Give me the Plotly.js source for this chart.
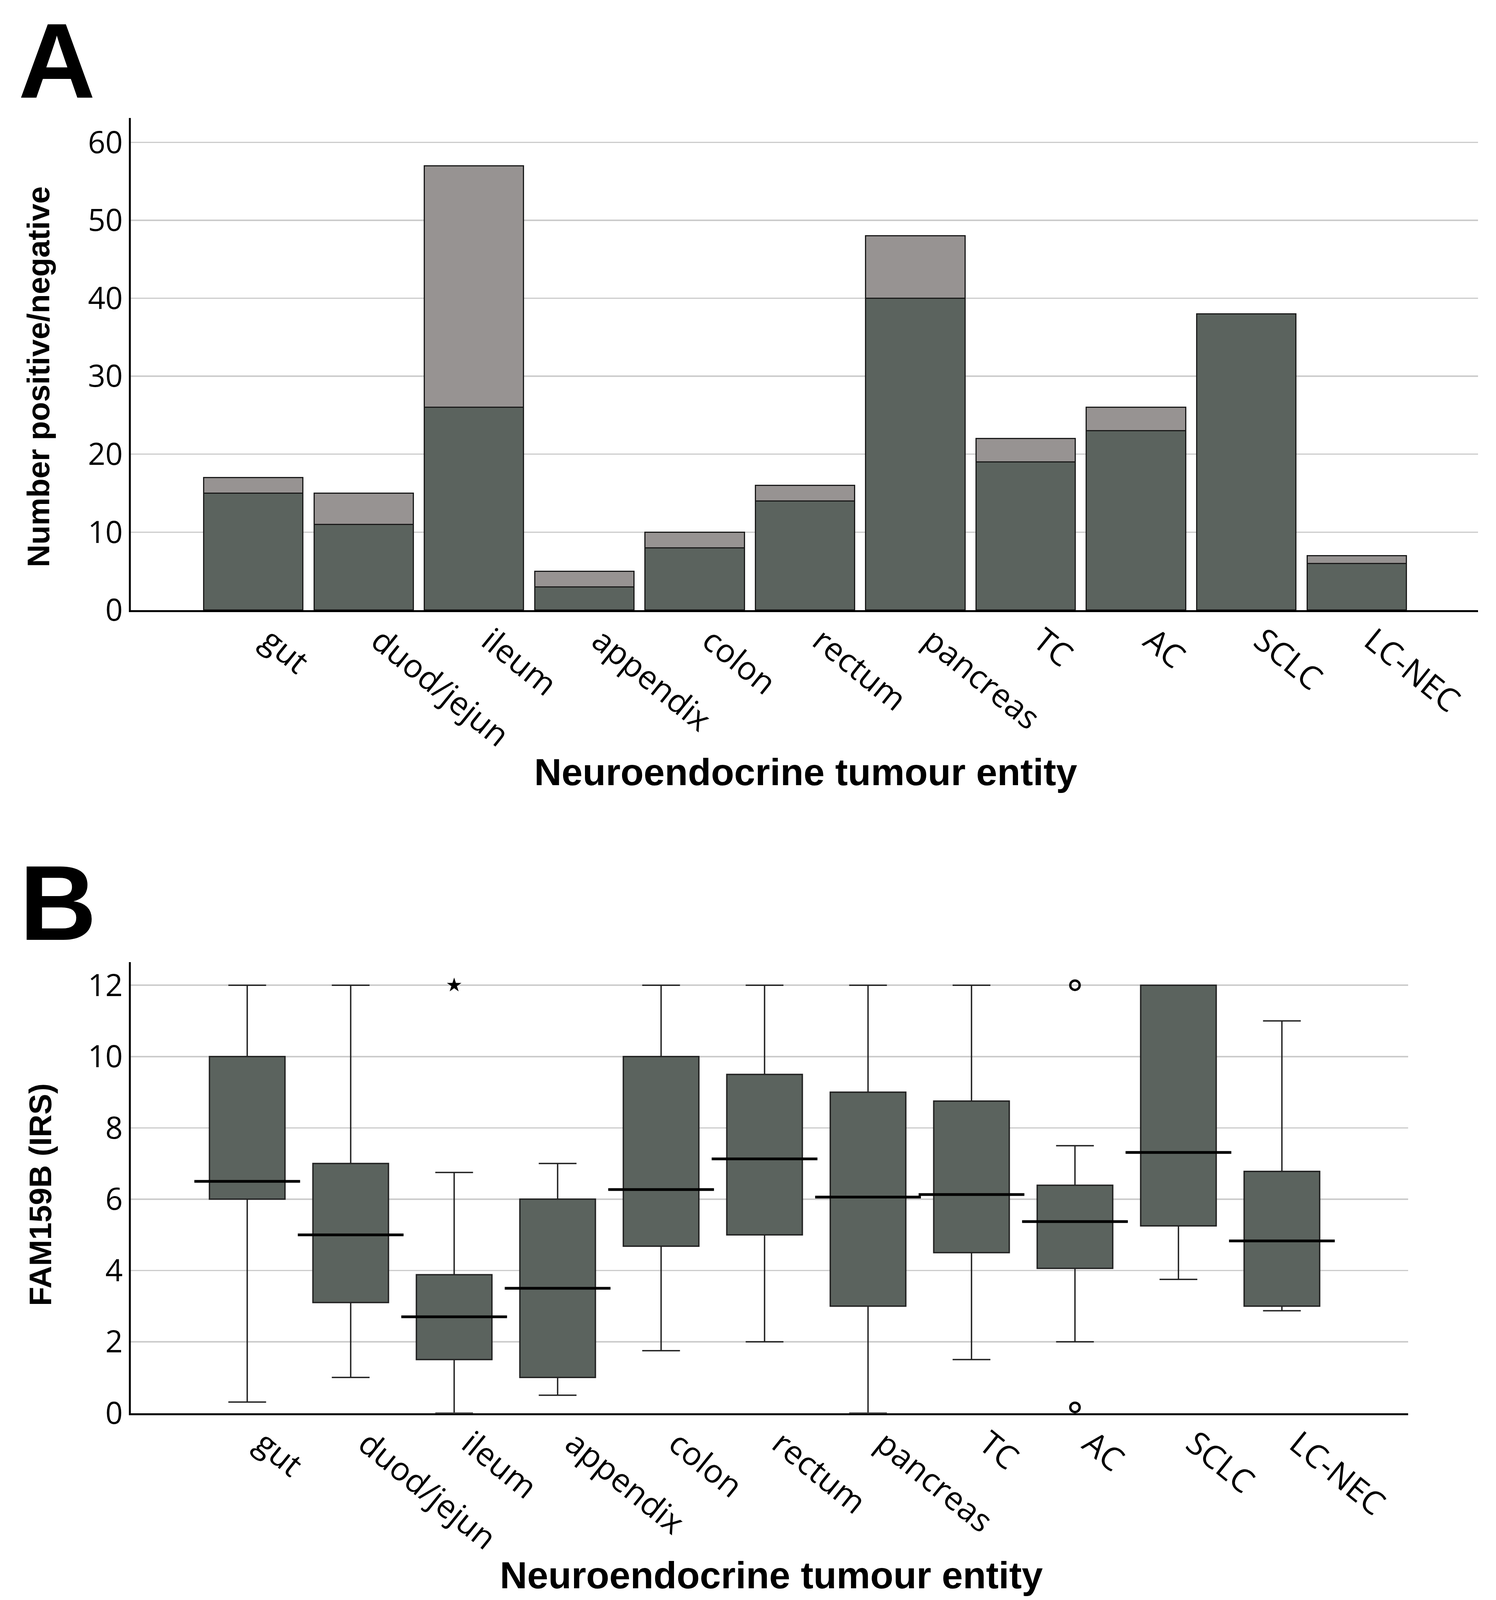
<!DOCTYPE html>
<html><head><meta charset="utf-8">
<script src="https://cdn.plot.ly/plotly-3.0.1.min.js"></script>
<style>html,body{margin:0;padding:0;background:#fff;overflow:hidden;} #chart{width:3831px;}</style>
</head><body><div id="chart"></div>
<script>
// ---- data ----
const categories = ['gut','duod/jejun','ileum','appendix','colon','rectum','pancreas','TC','AC','SCLC','LC-NEC'];
const positiveCounts = [15, 11, 26, 3, 8, 14, 40, 19, 23, 38, 6];
const negativeCounts = [2, 4, 31, 2, 2, 2, 8, 3, 3, 0, 1];
const boxLower  = [0.31, 1.0, 0.0, 0.5, 1.75, 2.0, 0.0, 1.5, 2.0, 3.75, 2.87];
const boxQ1     = [6.0, 3.1, 1.5, 1.0, 4.68, 5.0, 3.0, 4.5, 4.06, 5.25, 3.0];
const boxMedian = [6.5, 5.0, 2.7, 3.5, 6.27, 7.13, 6.06, 6.13, 5.37, 7.31, 4.83];
const boxQ3     = [10.0, 7.0, 3.88, 6.0, 10.0, 9.5, 9.0, 8.75, 6.39, 12.0, 6.78];
const boxUpper  = [12.0, 12.0, 6.75, 7.0, 12.0, 12.0, 12.0, 12.0, 7.5, 12.0, 11.0];
const extremeCats = ['ileum'];
const extremeVals = [12];
const outlierCats = ['AC', 'AC'];
const outlierVals = [12, 0.16];
const countTicks = [0, 10, 20, 30, 40, 50, 60];
const irsTicks = [0, 2, 4, 6, 8, 10, 12];
const yTitleA = 'Number positive/negative';
const yTitleB = 'FAM159B (IRS)';
const xTitle = 'Neuroendocrine tumour entity';

// ---- sizing: the figure follows the reference proportions inside the available window ----
const REF_W = 3831, REF_H = 5119;
const W = REF_W;
const H = Math.min(REF_H, window.innerHeight || REF_H);
const fy = H / REF_H;
const fs = Math.sqrt(fy);
document.getElementById('chart').style.height = H + 'px';

function fitSize(text, family, target) {
  const ctx = document.createElement('canvas').getContext('2d');
  ctx.font = 'bold 100px ' + family;
  const w = ctx.measureText(text).width || 1;
  return 100 * target / w;
}
const boldFam = '"Liberation Sans", Arial, sans-serif';
const ySize = Math.min(105, fitSize(yTitleA, boldFam, 1219 * fy));
const xSize = Math.min(108, fitSize(xTitle, boldFam, 1545 * (0.5 + 0.5 * fy) / 1.0));
// slanted category labels: keep the reference's horizontal and (squeezed) vertical extents
const tickAngle = Math.round(Math.atan(Math.tan(Math.PI / 4) * fy) * 180 / Math.PI);

const dark = '#5b635e', light = '#979392';
const tickFont = {family: 'Open Sans, DejaVu Sans, sans-serif', size: Math.round(82 * Math.sqrt(fs)), color: '#000'};
const catFont = {family: 'Open Sans, DejaVu Sans, sans-serif', size: Math.round(88 * Math.sqrt(fs)), color: '#000'};
const yTitleFont = {family: 'Liberation Sans, Arial, sans-serif', size: ySize, color: '#000', weight: 'bold'};
const xTitleFont = {family: 'Liberation Sans, Arial, sans-serif', size: xSize, color: '#000', weight: 'bold'};
const letterSize = Math.round(305 * fs);
const letterFont = {family: 'Liberation Sans, Arial, sans-serif', size: letterSize, color: '#000', weight: 'bold'};

const x2Range = [-1.125, 11.22];
const x2Domain = [335 / REF_W, 3606 / REF_W];
const boxWidthUnits = 0.73;
const catPx = (x2Domain[1] - x2Domain[0]) * W / (x2Range[1] - x2Range[0]);
const boxPx = boxWidthUnits * catPx;
const py = v => 1 - v / REF_H;     // reference pixel row -> paper fraction
const px = v => v / REF_W;         // reference pixel column -> paper fraction
const letterTop = capTopRef => Math.min(1, 1 - (capTopRef * fy - 0.189 * letterSize) / H);

const traces = [
  {type: 'bar', x: categories, y: positiveCounts, xaxis: 'x', yaxis: 'y',
   marker: {color: dark, line: {color: '#1a1a1a', width: 3}}, width: 0.9, hoverinfo: 'none'},
  {type: 'bar', x: categories, y: negativeCounts, xaxis: 'x', yaxis: 'y',
   marker: {color: light, line: {color: '#1a1a1a', width: 3}}, width: 0.9, hoverinfo: 'none'},
  {type: 'box', x: categories, q1: boxQ1, median: boxMedian, q3: boxQ3,
   lowerfence: boxLower, upperfence: boxUpper, xaxis: 'x2', yaxis: 'y2',
   boxpoints: false, width: boxWidthUnits, whiskerwidth: 0.5,
   fillcolor: dark, line: {color: '#222', width: 3.5}, hoverinfo: 'none'},
  {type: 'scatter', mode: 'markers', x: categories, y: boxMedian, xaxis: 'x2', yaxis: 'y2',
   marker: {symbol: 'line-ew', size: boxPx, color: '#000', line: {color: '#000', width: 7}}, hoverinfo: 'none'},
  {type: 'scatter', mode: 'markers', x: extremeCats, y: extremeVals, xaxis: 'x2', yaxis: 'y2',
   marker: {symbol: 'star', size: 28, color: '#000'}, cliponaxis: false, hoverinfo: 'none'},
  {type: 'scatter', mode: 'markers', x: outlierCats, y: outlierVals, xaxis: 'x2', yaxis: 'y2',
   marker: {symbol: 'circle-open', size: 24, color: '#000', line: {color: '#000', width: 6}}, cliponaxis: false, hoverinfo: 'none'}
];

const commonX = {type: 'category', categoryorder: 'array', categoryarray: categories,
  tickangle: tickAngle, tickfont: catFont, showline: true, linecolor: '#000', linewidth: 5,
  ticks: '', showgrid: false, zeroline: false, fixedrange: true,
  ticklabelshift: 40, ticklabelstandoff: Math.round(-10 * fy)};
const commonY = {showgrid: true, gridcolor: '#cccccc', gridwidth: 3.5, showline: true,
  linecolor: '#000', linewidth: 5, ticks: '', zeroline: false, tickfont: tickFont, fixedrange: true};

const layout = {
  width: W, height: H, margin: {l: 0, r: 0, t: 0, b: 0},
  paper_bgcolor: '#fff', plot_bgcolor: '#fff', showlegend: false, barmode: 'stack',
  xaxis: Object.assign({}, commonX, {domain: [px(335), px(3785)], range: [-1.11, 11.1], anchor: 'y'}),
  yaxis: Object.assign({}, commonY, {domain: [py(1952), py(378)], range: [0, 63.1],
    tickvals: countTicks, ticktext: countTicks.map(String), anchor: 'x'}),
  xaxis2: Object.assign({}, commonX, {domain: x2Domain, range: x2Range, anchor: 'y2'}),
  yaxis2: Object.assign({}, commonY, {domain: [py(4521), py(3078)], range: [0, 12.65],
    tickvals: irsTicks, ticktext: irsTicks.map(String), anchor: 'x2'}),
  annotations: [
    {text: 'A', xref: 'paper', yref: 'paper', x: px(145), y: letterTop(66), xanchor: 'center', yanchor: 'top', showarrow: false, font: letterFont},
    {text: 'B', xref: 'paper', yref: 'paper', x: px(148), y: letterTop(2760), xanchor: 'center', yanchor: 'top', showarrow: false, font: letterFont},
    {text: yTitleA, xref: 'paper', yref: 'paper', x: px(98), y: py(1206), textangle: -90, xanchor: 'center', yanchor: 'middle', showarrow: false, font: yTitleFont},
    {text: xTitle, xref: 'paper', yref: 'paper', x: px(2063), y: py(2470), xanchor: 'center', yanchor: 'middle', showarrow: false, font: xTitleFont},
    {text: yTitleB, xref: 'paper', yref: 'paper', x: px(103), y: py(3822), textangle: -90, xanchor: 'center', yanchor: 'middle', showarrow: false, font: yTitleFont},
    {text: xTitle, xref: 'paper', yref: 'paper', x: px(1975), y: py(5040), xanchor: 'center', yanchor: 'middle', showarrow: false, font: xTitleFont}
  ]
};

Plotly.newPlot('chart', traces, layout, {staticPlot: true, displayModeBar: false});
</script>
</body></html>
